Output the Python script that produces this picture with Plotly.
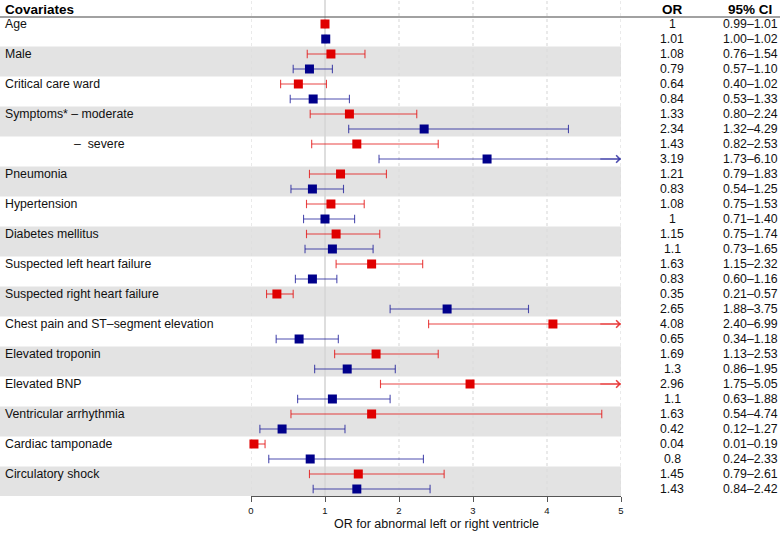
import plotly.graph_objects as go

covariates = ["Age", "Male", "Critical care ward", "Symptoms* – moderate", "–\u00a0\u00a0severe",
              "Pneumonia", "Hypertension", "Diabetes mellitus", "Suspected left heart failure",
              "Suspected right heart failure", "Chest pain and ST–segment elevation",
              "Elevated troponin", "Elevated BNP", "Ventricular arrhythmia",
              "Cardiac tamponade", "Circulatory shock"]
label_indent = [0, 0, 0, 0, 1, 0, 0, 0, 0, 0, 0, 0, 0, 0, 0, 0]

or_red = [1, 1.08, 0.64, 1.33, 1.43, 1.21, 1.08, 1.15, 1.63, 0.35, 4.08, 1.69, 2.96, 1.63, 0.04, 1.45]
lo_red = [0.99, 0.76, 0.40, 0.80, 0.82, 0.79, 0.75, 0.75, 1.15, 0.21, 2.40, 1.13, 1.75, 0.54, 0.01, 0.79]
hi_red = [1.01, 1.54, 1.02, 2.24, 2.53, 1.83, 1.53, 1.74, 2.32, 0.57, 6.99, 2.53, 5.05, 4.74, 0.19, 2.61]

or_blue = [1.01, 0.79, 0.84, 2.34, 3.19, 0.83, 1, 1.1, 0.83, 2.65, 0.65, 1.3, 1.1, 0.42, 0.8, 1.43]
lo_blue = [1.00, 0.57, 0.53, 1.32, 1.73, 0.54, 0.71, 0.73, 0.60, 1.88, 0.34, 0.86, 0.63, 0.12, 0.24, 0.84]
hi_blue = [1.02, 1.10, 1.33, 4.29, 6.10, 1.25, 1.40, 1.65, 1.16, 3.75, 1.18, 1.95, 1.88, 1.27, 2.33, 2.42]

x_ticks = [0, 1, 2, 3, 4, 5]
x_title = "OR for abnormal left or right ventricle"
headers = ["Covariates", "OR", "95% CI"]

W, H = 780, 534
XMIN, XMAX = 0, 5
FONT = "Liberation Sans, Arial, Helvetica, sans-serif"
RED = "#e00000"
BLUE = "#00008b"
RED_L = "rgba(228,20,20,0.8)"
BLUE_L = "rgba(20,20,150,0.75)"
FS = 12.3

n = len(covariates)
row_px = 15.0
first_px = 24.0
PB = 496.0  # plot-area bottom in pixels
y_top = -first_px / row_px
y_bot = y_top + PB / row_px


def pxx(px):
    return px / W


def pxy(py):
    return 1 - py / PB


fig = go.Figure()
ann = []


def add_series(ors, los, his, rows, color, lcolor):
    lx, ly, capx, capy = [], [], [], []
    for o, lo, hi, r in zip(ors, los, his, rows):
        lx += [max(lo, XMIN), min(hi, XMAX), None]
        ly += [r, r, None]
        if lo >= XMIN:
            capx.append(lo); capy.append(r)
        if hi <= XMAX:
            capx.append(hi); capy.append(r)
    fig.add_trace(go.Scatter(x=lx, y=ly, mode="lines", line=dict(color=lcolor, width=1.1),
                             hoverinfo="skip", showlegend=False, cliponaxis=False))
    fig.add_trace(go.Scatter(x=capx, y=capy, mode="markers",
                             marker=dict(symbol="line-ns", size=6, line=dict(color=lcolor, width=1.1)),
                             hoverinfo="skip", showlegend=False, cliponaxis=False))
    fig.add_trace(go.Scatter(x=ors, y=rows, mode="markers",
                             marker=dict(symbol="square", size=9, color=color),
                             showlegend=False, cliponaxis=False))
    for hi, r in zip(his, rows):
        if hi > XMAX:
            ann.append(dict(x=XMAX, y=r, ax=XMAX - 0.3, ay=r, axref="x", ayref="y",
                            xref="x", yref="y", text="", showarrow=True,
                            arrowhead=4, arrowsize=1.3, arrowwidth=1.1, arrowcolor=lcolor))


rows_red = [2 * k for k in range(n)]
rows_blue = [2 * k + 1 for k in range(n)]

shapes = []
for k in range(n):
    if k % 2 == 1:
        shapes.append(dict(type="rect", xref="paper", yref="y", x0=0, x1=pxx(621),
                           y0=2 * k - 0.5, y1=2 * k + 1.5, fillcolor="#e3e3e3",
                           line=dict(width=0), layer="below"))
for t in x_ticks:
    if t == 1:
        shapes.append(dict(type="line", xref="x", yref="paper", x0=t, x1=t, y0=0, y1=1,
                           line=dict(color="#d6d6d6", width=1.6), layer="below"))
    else:
        shapes.append(dict(type="line", xref="x", yref="paper", x0=t, x1=t, y0=0, y1=1,
                           line=dict(color="#dcdcdc", width=1.2, dash="3px,3px"), layer="below"))
shapes.append(dict(type="line", xref="paper", yref="paper", x0=0, x1=1,
                   y0=pxy(17), y1=pxy(17), line=dict(color="#444444", width=1.2)))

add_series(or_red, lo_red, hi_red, rows_red, RED, RED_L)
add_series(or_blue, lo_blue, hi_blue, rows_blue, BLUE, BLUE_L)

for txt, xp, anc in zip(headers, [3, 672, 750], ["left", "center", "center"]):
    ann.append(dict(x=pxx(xp), y=pxy(9), xref="paper", yref="paper", text=f"<b>{txt}</b>",
                    xanchor=anc, yanchor="middle", showarrow=False,
                    font=dict(size=13.5, color="#000", family=FONT)))

for k, lab in enumerate(covariates):
    xpx = 72 if label_indent[k] else 3
    ann.append(dict(x=pxx(xpx), y=rows_red[k], xref="paper", yref="y", text=lab,
                    xanchor="left", yanchor="middle", showarrow=False,
                    font=dict(size=FS, color="#111", family=FONT)))

for ors, los, his, rows in [(or_red, lo_red, hi_red, rows_red), (or_blue, lo_blue, hi_blue, rows_blue)]:
    for o, lo, hi, r in zip(ors, los, his, rows):
        ann.append(dict(x=pxx(672), y=r, xref="paper", yref="y", text=f"{o:g}",
                        xanchor="center", yanchor="middle", showarrow=False,
                        font=dict(size=FS, color="#111", family=FONT)))
        ann.append(dict(x=pxx(750), y=r, xref="paper", yref="y",
                        text=f"{lo:.2f}–{hi:.2f}",
                        xanchor="center", yanchor="middle", showarrow=False,
                        font=dict(size=FS, color="#111", family=FONT)))

ann.append(dict(x=(XMIN + XMAX) / 2, y=pxy(524), xref="x", yref="paper", text=x_title,
                xanchor="center", yanchor="middle", showarrow=False,
                font=dict(size=12.5, color="#111", family=FONT)))

fig.update_layout(
    width=W, height=H,
    margin=dict(l=0, r=0, t=0, b=H - PB, pad=0),
    paper_bgcolor="white", plot_bgcolor="white",
    shapes=shapes,
    xaxis=dict(domain=[251 / W, 621 / W], range=[XMIN, XMAX], tickvals=x_ticks,
               ticktext=[str(t) for t in x_ticks], showgrid=False, zeroline=False,
               showline=True, linecolor="#555555", linewidth=1.2, ticks="outside",
               ticklen=5, tickwidth=1.2, tickcolor="#555555", automargin=False,
               tickfont=dict(size=9.5, color="#111", family=FONT)),
    yaxis=dict(range=[y_bot, y_top], visible=False, showgrid=False, zeroline=False,
               automargin=False),
    font=dict(family=FONT),
)
fig.layout.annotations = ann

fig.write_html("out.html", config={"displayModeBar": False},
               post_script="document.body.style.margin='0';document.body.style.overflow='hidden';")
